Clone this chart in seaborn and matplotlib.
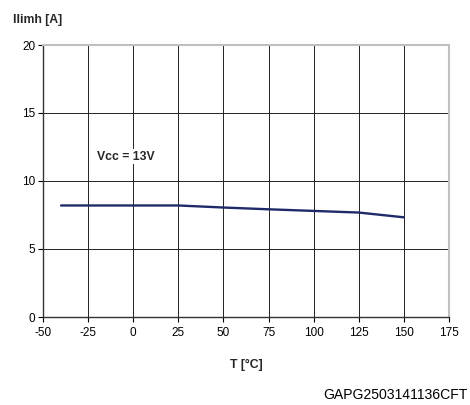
import matplotlib
matplotlib.use("Agg")
import matplotlib.pyplot as plt
import seaborn as sns
import pandas as pd

temps = [-40, -25, 0, 25, 50, 75, 100, 125, 150]
ilimh = [8.2, 8.2, 8.2, 8.2, 8.05, 7.92, 7.8, 7.68, 7.33]
x_ticks = [-50, -25, 0, 25, 50, 75, 100, 125, 150, 175]
y_ticks = [0, 5, 10, 15, 20]

sns.set_theme(style="white")
plt.rcParams['font.family'] = ['Liberation Sans', 'DejaVu Sans']
plt.rcParams['axes.unicode_minus'] = False

df = pd.DataFrame({"T": temps, "I": ilimh})

fig = plt.figure(figsize=(4.7, 4.05), dpi=100)
ax = fig.add_axes([43/470, 1-317/405, (449-43)/470, (317-45)/405])

sns.lineplot(data=df, x="T", y="I", ax=ax, color="#1f2a6b", linewidth=1.7, zorder=3)

ax.set_xlim(-50, 175)
ax.set_ylim(0, 20)
ax.set_xticks(x_ticks)
ax.set_yticks(y_ticks)
ax.grid(True, color="#222222", linewidth=0.7)
ax.tick_params(axis="both", which="both", direction="out", length=3.5, width=0.8,
               labelsize=8.5, colors="black", pad=2, left=True, bottom=True)
ax.tick_params(axis="x", pad=4)

for s in ["top", "right"]:
    ax.spines[s].set_color("#c0c0c0")
    ax.spines[s].set_linewidth(1.5)
for s in ["left", "bottom"]:
    ax.spines[s].set_color("#333333")
    ax.spines[s].set_linewidth(1.0)

ax.set_xlabel("T [°C]", fontsize=8.8, fontweight="bold", labelpad=14)
ax.set_ylabel("")

fig.text(13/470, 1-20/405, "Ilimh [A]", fontsize=8.8, fontweight="bold", va="center", ha="left")
ax.text(-20, 11.8, "Vcc = 13V", fontsize=8.8, fontweight="bold", va="center", ha="left",
        bbox=dict(facecolor="white", edgecolor="none", pad=1.0), zorder=4)

fig.text(468/470, 1-395/405, "GAPG2503141136CFT", fontsize=10.1, va="center", ha="right",
         color="black")

fig.savefig("out.png", dpi=100)
